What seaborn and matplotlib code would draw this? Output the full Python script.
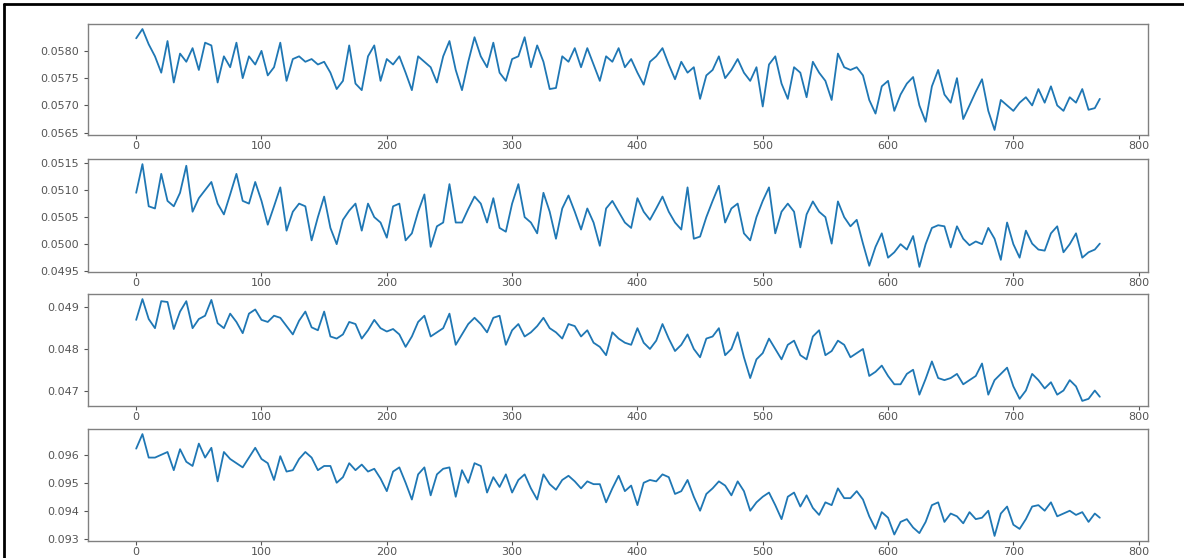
import numpy as np
import pandas as pd
import matplotlib
matplotlib.use("Agg")
import matplotlib.pyplot as plt
from matplotlib.lines import Line2D
from matplotlib.ticker import MultipleLocator
import seaborn as sns

# индексы отсчётов (шаг 5, последний отсчёт 769)
steps = list(range(0, 766, 5)) + [769]

series_1 = [
    0.05823, 0.05840, 0.05812, 0.05790, 0.05760, 0.05818, 0.05742, 0.05795, 0.05780, 0.05805,
    0.05765, 0.05815, 0.05810, 0.05742, 0.05790, 0.05770, 0.05815, 0.05750, 0.05790, 0.05775,
    0.05800, 0.05755, 0.05770, 0.05815, 0.05745, 0.05785, 0.05790, 0.05780, 0.05785, 0.05775,
    0.05780, 0.05760, 0.05730, 0.05745, 0.05810, 0.05740, 0.05728, 0.05790, 0.05810, 0.05745,
    0.05785, 0.05775, 0.05790, 0.05760, 0.05728, 0.05790, 0.05780, 0.05770, 0.05742, 0.05790,
    0.05818, 0.05765, 0.05728, 0.05780, 0.05825, 0.05790, 0.05770, 0.05815, 0.05760, 0.05745,
    0.05785, 0.05790, 0.05825, 0.05770, 0.05810, 0.05780, 0.05730, 0.05732, 0.05790, 0.05780,
    0.05805, 0.05770, 0.05805, 0.05775, 0.05745, 0.05790, 0.05780, 0.05805, 0.05770, 0.05785,
    0.05760, 0.05738, 0.05780, 0.05790, 0.05805, 0.05775, 0.05748, 0.05780, 0.05760, 0.05770,
    0.05712, 0.05755, 0.05765, 0.05790, 0.05750, 0.05765, 0.05785, 0.05760, 0.05745, 0.05770,
    0.05698, 0.05775, 0.05790, 0.05740, 0.05712, 0.05770, 0.05760, 0.05715, 0.05780, 0.05760,
    0.05745, 0.05710, 0.05795, 0.05770, 0.05765, 0.05770, 0.05755, 0.05710, 0.05685, 0.05735,
    0.05745, 0.05690, 0.05720, 0.05740, 0.05752, 0.05700, 0.05670, 0.05735, 0.05765, 0.05720,
    0.05705, 0.05750, 0.05675, 0.05700, 0.05725, 0.05748, 0.05690, 0.05655, 0.05710, 0.05700,
    0.05690, 0.05705, 0.05715, 0.05700, 0.05730, 0.05705, 0.05735, 0.05700, 0.05690, 0.05715,
    0.05705, 0.05730, 0.05692, 0.05695, 0.05712,
]

series_2 = [
    0.05095, 0.05148, 0.05070, 0.05066, 0.05130, 0.05080, 0.05070, 0.05095, 0.05145, 0.05060,
    0.05085, 0.05100, 0.05115, 0.05075, 0.05055, 0.05092, 0.05130, 0.05080, 0.05075, 0.05115,
    0.05080, 0.05036, 0.05070, 0.05105, 0.05025, 0.05060, 0.05075, 0.05070, 0.05007, 0.05050,
    0.05088, 0.05030, 0.05000, 0.05045, 0.05062, 0.05075, 0.05025, 0.05075, 0.05050, 0.05040,
    0.05012, 0.05070, 0.05075, 0.05007, 0.05020, 0.05060, 0.05092, 0.04995, 0.05033, 0.05040,
    0.05111, 0.05040, 0.05040, 0.05065, 0.05088, 0.05075, 0.05040, 0.05085, 0.05030, 0.05023,
    0.05075, 0.05111, 0.05050, 0.05040, 0.05020, 0.05095, 0.05060, 0.05010, 0.05066, 0.05090,
    0.05060, 0.05027, 0.05066, 0.05040, 0.04997, 0.05066, 0.05080, 0.05060, 0.05040, 0.05030,
    0.05085, 0.05060, 0.05045, 0.05066, 0.05088, 0.05060, 0.05040, 0.05027, 0.05105, 0.05010,
    0.05014, 0.05050, 0.05080, 0.05108, 0.05040, 0.05066, 0.05075, 0.05020, 0.05007, 0.05050,
    0.05080, 0.05105, 0.05020, 0.05060, 0.05075, 0.05060, 0.04994, 0.05055, 0.05079, 0.05060,
    0.05050, 0.05001, 0.05079, 0.05050, 0.05033, 0.05045, 0.05001, 0.04960, 0.04995, 0.05020,
    0.04975, 0.04985, 0.05000, 0.04990, 0.05015, 0.04958, 0.05000, 0.05030, 0.05035, 0.05033,
    0.04994, 0.05033, 0.05010, 0.04998, 0.05005, 0.05000, 0.05030, 0.05010, 0.04971, 0.05040,
    0.05000, 0.04975, 0.05025, 0.05001, 0.04990, 0.04988, 0.05020, 0.05033, 0.04985, 0.05000,
    0.05020, 0.04975, 0.04985, 0.04990, 0.05001,
]

series_3 = [
    0.04870, 0.04920, 0.04872, 0.04850, 0.04915, 0.04913, 0.04848, 0.04890, 0.04915, 0.04850,
    0.04872, 0.04880, 0.04918, 0.04862, 0.04850, 0.04885, 0.04865, 0.04838, 0.04885, 0.04895,
    0.04870, 0.04865, 0.04880, 0.04875, 0.04855, 0.04835, 0.04868, 0.04890, 0.04852, 0.04845,
    0.04890, 0.04830, 0.04825, 0.04835, 0.04865, 0.04860, 0.04825, 0.04845, 0.04870, 0.04850,
    0.04842, 0.04848, 0.04835, 0.04805, 0.04830, 0.04865, 0.04880, 0.04830, 0.04840, 0.04850,
    0.04885, 0.04810, 0.04835, 0.04860, 0.04875, 0.04860, 0.04840, 0.04875, 0.04880, 0.04810,
    0.04845, 0.04860, 0.04830, 0.04840, 0.04855, 0.04875, 0.04850, 0.04840, 0.04825, 0.04860,
    0.04855, 0.04830, 0.04845, 0.04815, 0.04805, 0.04785, 0.04840, 0.04825, 0.04815, 0.04810,
    0.04850, 0.04815, 0.04800, 0.04820, 0.04860, 0.04825, 0.04795, 0.04810, 0.04835, 0.04800,
    0.04780, 0.04825, 0.04830, 0.04850, 0.04785, 0.04800, 0.04840, 0.04780, 0.04730, 0.04775,
    0.04790, 0.04825, 0.04800, 0.04775, 0.04810, 0.04820, 0.04785, 0.04775, 0.04830, 0.04845,
    0.04785, 0.04795, 0.04820, 0.04810, 0.04780, 0.04790, 0.04800, 0.04735, 0.04745, 0.04760,
    0.04735, 0.04715, 0.04715, 0.04740, 0.04750, 0.04690, 0.04728, 0.04770, 0.04730, 0.04725,
    0.04730, 0.04740, 0.04715, 0.04725, 0.04735, 0.04765, 0.04690, 0.04725, 0.04740, 0.04755,
    0.04710, 0.04680, 0.04700, 0.04740, 0.04725, 0.04705, 0.04720, 0.04690, 0.04700, 0.04725,
    0.04710, 0.04675, 0.04680, 0.04700, 0.04685,
]

series_4 = [
    0.09622, 0.09674, 0.09590, 0.09590, 0.09600, 0.09610, 0.09545, 0.09620, 0.09575, 0.09560,
    0.09640, 0.09590, 0.09625, 0.09505, 0.09610, 0.09585, 0.09570, 0.09555, 0.09590, 0.09625,
    0.09585, 0.09570, 0.09510, 0.09595, 0.09540, 0.09545, 0.09585, 0.09610, 0.09590, 0.09545,
    0.09560, 0.09560, 0.09500, 0.09520, 0.09570, 0.09545, 0.09565, 0.09540, 0.09550, 0.09515,
    0.09470, 0.09540, 0.09555, 0.09500, 0.09440, 0.09530, 0.09555, 0.09455, 0.09530, 0.09550,
    0.09555, 0.09450, 0.09545, 0.09500, 0.09570, 0.09560, 0.09465, 0.09520, 0.09485, 0.09530,
    0.09465, 0.09510, 0.09530, 0.09480, 0.09440, 0.09530, 0.09495, 0.09475, 0.09510, 0.09525,
    0.09505, 0.09480, 0.09505, 0.09495, 0.09495, 0.09430, 0.09480, 0.09525, 0.09470, 0.09490,
    0.09420, 0.09500, 0.09510, 0.09505, 0.09530, 0.09520, 0.09460, 0.09470, 0.09510, 0.09450,
    0.09400, 0.09460, 0.09480, 0.09505, 0.09490, 0.09455, 0.09505, 0.09470, 0.09400, 0.09430,
    0.09450, 0.09465, 0.09420, 0.09370, 0.09450, 0.09465, 0.09415, 0.09455, 0.09410, 0.09385,
    0.09430, 0.09420, 0.09480, 0.09445, 0.09445, 0.09470, 0.09440, 0.09380, 0.09335, 0.09395,
    0.09375, 0.09315, 0.09360, 0.09370, 0.09340, 0.09320, 0.09360, 0.09420, 0.09430, 0.09360,
    0.09390, 0.09380, 0.09355, 0.09395, 0.09370, 0.09375, 0.09400, 0.09310, 0.09390, 0.09415,
    0.09350, 0.09335, 0.09370, 0.09415, 0.09420, 0.09400, 0.09430, 0.09380, 0.09390, 0.09400,
    0.09385, 0.09395, 0.09360, 0.09390, 0.09375,
]

y_steps = [0.0005, 0.0005, 0.001, 0.001]

W, H = 1184, 558
# позиции осей в пикселях: (верх, низ)
panel_px = [(24, 135), (159, 272), (294, 406), (429, 541)]
left_px, right_px = 88, 1148

sns.set_style("ticks")
plt.rcParams['font.family'] = ['DejaVu Sans']

fig = plt.figure(figsize=(W / 100, H / 100), dpi=100)
fig.patch.set_facecolor('white')

all_series = [series_1, series_2, series_3, series_4]
for (top, bottom), values, ystep in zip(panel_px, all_series, y_steps):
    ax = fig.add_axes([left_px / W, 1 - bottom / H,
                       (right_px - left_px) / W, (bottom - top) / H])
    df = pd.DataFrame({'x': steps, 'y': values})
    sns.lineplot(data=df, x='x', y='y', ax=ax, estimator=None,
                 color='#1f77b4', linewidth=1.3)
    ax.set_xlim(-38.45, 807.45)
    ax.xaxis.set_major_locator(MultipleLocator(100))
    ax.yaxis.set_major_locator(MultipleLocator(ystep))
    ax.set_xlabel('')
    ax.set_ylabel('')
    ax.tick_params(labelsize=8, colors='#555555', length=3, width=0.8)
    ax.tick_params(axis='x', pad=1.5)
    for sp in ax.spines.values():
        sp.set_visible(True)
        sp.set_color('#808080')
        sp.set_linewidth(1.0)

# чёрная рамка скриншота
fig.add_artist(Line2D([3.5 / W, 3.5 / W], [0, 1 - 4 / H], color='black', linewidth=2))
fig.add_artist(Line2D([3.5 / W, 1], [1 - 4 / H, 1 - 4 / H], color='black', linewidth=2))

fig.savefig('out.png', dpi=100)
